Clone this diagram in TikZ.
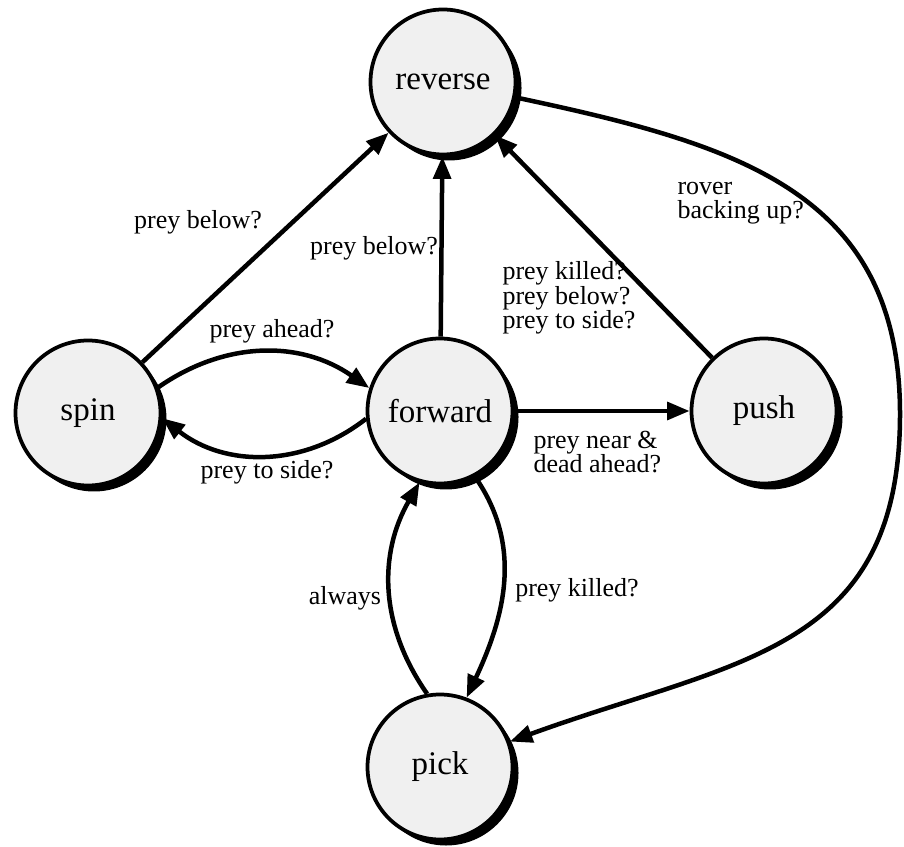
\documentclass[tikz,border=0pt]{standalone}
\usepackage{fontspec}
\setmainfont{Liberation Serif}
\usepackage{xcolor}
\definecolor{stategray}{gray}{.94}
\usetikzlibrary{arrows.meta,shadows}

\begin{document}
\begin{tikzpicture}[
    x=0.4pt, y=0.4pt,
    state/.style={circle, draw=black, line width=1.5pt, fill=stategray,
      minimum size=58pt, inner sep=0pt, font=\fontsize{13.2}{15}\selectfont,
      drop shadow={shadow xshift=2.4pt, shadow yshift=-2.4pt, fill=black, opacity=1}},
    trans/.style={draw=black, line width=1.8pt, -{Triangle[length=9pt,width=7pt]}},
    cond/.style={font=\fontsize{10.4}{9.8}\selectfont, inner sep=0pt, align=left}
  ]
    \useasboundingbox (0,0) rectangle (904,846);

    % states
    \node[state] (reverse) at (443,764) {reverse};
    \node[state] (spin)    at (88,433)  {spin};
    \node[state] (forward) at (440,435) {forward};
    \node[state] (push)    at (764,435) {push};
    \node[state] (pick)    at (440,79)  {pick};

    % turning point of the long reverse -> pick arc
    \coordinate (rim) at (900,432);

    % transitions
    \draw[trans] (spin) -- (reverse);
    \draw[trans] (forward) -- (reverse);
    \draw[trans] (push) -- (reverse);
    \draw[trans] (forward) -- (push);
    \draw[trans] (spin.20) to[out=35, in=145] (forward.162);
    \draw[trans] (forward.186) to[out=218, in=-38] (spin.-4);
    \draw[trans] (forward.-62) to[out=-55, in=65] (pick.69);
    \draw[trans] (pick.100) to[out=125, in=-120] (forward.254);
    \draw[trans] (reverse) to[out=-12, in=90, looseness=1.15] (rim)
      to[out=-90, in=20, looseness=1.2] (pick);

    % conditions
    \node[cond] (lspin)   at (198,624) {prey below?};
    \node[cond] (lfwd)    at (374,598) {prey below?};
    \node[cond, anchor=west] (lpush)  at (502,548) {prey killed?\\prey below?\\prey to side?};
    \node[cond, anchor=west] (lrover) at (677,643) {rover\\backing up?};
    \node[cond] (lahead)  at (272,515) {prey ahead?};
    \node[cond] (lside)   at (267,374) {prey to side?};
    \node[cond, anchor=west] (lnear)  at (533,394) {prey near \&\\dead ahead?};
    \node[cond] (lalways) at (345,248) {always};
    \node[cond] (lkilled) at (577,256) {prey killed?};
\end{tikzpicture}
\end{document}
